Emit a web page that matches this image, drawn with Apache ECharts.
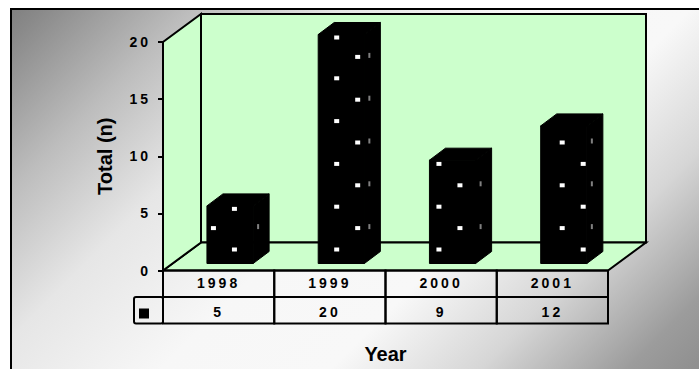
<!DOCTYPE html>
<html>
<head>
<meta charset="utf-8">
<script src="https://cdn.jsdelivr.net/npm/echarts@6/dist/echarts.min.js"></script>
<style>
html,body{margin:0;padding:0;background:#fff;}
#chart{width:699px;height:369px;}
/* the old chart draws its numbers with wide letter spacing */
#chart text[style*="14px"]{letter-spacing:3px;}
</style>
</head>
<body>
<div id="chart"></div>
<script>
const categories=['1998','1999','2000','2001']
const totals=[5,20,9,12]
const yMin=0
const yMax=20
const yStep=5

const FONT='"Liberation Sans", Arial, sans-serif'
const WALL='#CCFFCC'
const DX=38   // depth of the floor/walls
const DY=28
const ROW=26.5 // data table row height

let chart=echarts.init(document.getElementById('chart'),null,{renderer:'svg'})

function frameItem(params,api){
    let cs=params.coordSys
    let x0=cs.x, y0=cs.y, x1=cs.x+cs.width, y1=cs.y+cs.height
    let i=params.dataIndex
    let bandW=api.size([1,0])[0]
    let left=api.coord([i,0])[0]-bandW/2
    let line={stroke:'#000',lineWidth:2}
    let children=[]
    if(i===0){
        children.push({type:'rect',shape:{x:x0+DX,y:y0-DY,width:cs.width,height:cs.height},
            style:Object.assign({fill:WALL},line)})
        children.push({type:'polygon',shape:{points:[[x0,y1],[x1,y1],[x1+DX,y1-DY],[x0+DX,y1-DY]]},
            style:Object.assign({fill:WALL},line)})
        children.push({type:'polygon',shape:{points:[[x0,y1],[x0,y0],[x0+DX,y0-DY],[x0+DX,y1-DY]]},
            style:Object.assign({fill:WALL},line)})
        // legend key cell of the data table
        children.push({type:'rect',shape:{x:x0-29,y:y1+ROW,width:29,height:ROW,r:2},
            style:Object.assign({fill:'none'},line)})
        children.push({type:'rect',shape:{x:x0-24,y:y1+ROW+11.5,width:10,height:10},
            style:{fill:'#000'}})
    }
    children.push({type:'rect',shape:{x:left,y:y1,width:bandW,height:ROW},style:Object.assign({fill:'none'},line)})
    children.push({type:'rect',shape:{x:left,y:y1+ROW,width:bandW,height:ROW},style:Object.assign({fill:'none'},line)})
    return {type:'group',children}
}

function barItem(params,api){
    let i=api.value(0)
    let v=api.value(1)
    let base=api.coord([i,0])
    let top=api.coord([i,v])
    let bandW=api.size([1,0])[0]
    let bw=bandW*0.415
    let cx=base[0]+DX*0.3
    let L=cx-bw/2, R=cx+bw/2
    let B=base[1]-DY*0.25, T=top[1]-DY*0.25-0.5
    let bdx=16, bdy=12
    let solid={fill:'#000',stroke:'#000',lineWidth:1}
    let children=[
        {type:'polygon',shape:{points:[[L,T],[L+bdx,T-bdy],[R+bdx,T-bdy],[R,T]]},style:solid},
        {type:'polygon',shape:{points:[[R,T],[R+bdx,T-bdy],[R+bdx,B-bdy],[R,B]]},style:solid},
        {type:'rect',shape:{x:L,y:T,width:bw,height:B-T},style:solid}
    ]
    // dotted fill pattern of the bars
    let off0=((27-9*i)%42+42)%42
    for(let k=0;;k++){
        let y=B-14-k*21.4
        if(y-2<T-3) break
        let off=k%2 ? (off0>=21 ? off0-21 : off0+21) : off0
        for(let x=L+off;x+3<=R;x+=42){
            if(x-2>=L) children.push({type:'rect',shape:{x:x-2,y:Math.max(y-2,T+1),width:5,height:4},style:{fill:'#fff'}})
        }
        if(k%2) children.push({type:'rect',shape:{x:R+4,y:y-4,width:2,height:5},style:{fill:'#808080'}})
    }
    return {type:'group',children}
}

let seriesData=categories.map((c,i)=>[i,totals[i]])

let option={
    animation:false,
    graphic:[
        {type:'rect',z:-20,shape:{x:0,y:0,width:699,height:369},style:{fill:'#fff'}},
        {type:'rect',z:-10,shape:{x:11,y:9,width:700,height:370},
            style:{stroke:'#000',lineWidth:2,
                fill:{type:'linear',x:0,y:0,x2:530,y2:530,global:true,colorStops:[
                    {offset:0,color:'#7a7a7a'},
                    {offset:0.05,color:'#8a8a8a'},
                    {offset:0.19,color:'#bdbdbd'},
                    {offset:0.33,color:'#e6e6e6'},
                    {offset:0.5,color:'#f7f7f7'},
                    {offset:0.66,color:'#f8f8f8'},
                    {offset:0.8,color:'#d6d6d6'},
                    {offset:0.94,color:'#9c9c9c'},
                    {offset:1,color:'#909090'}
                ]}}}
    ],
    grid:{left:163,right:91,top:42,bottom:98},
    xAxis:[
        {type:'category',data:categories,
            axisLine:{show:false},axisTick:{show:false},
            axisLabel:{margin:5,fontSize:14,fontWeight:'bold',color:'#000',fontFamily:FONT},
            name:'Year',nameLocation:'middle',nameGap:73.5,
            nameTextStyle:{fontSize:20,fontWeight:'bold',color:'#000',fontFamily:FONT}},
        {type:'category',data:categories,position:'bottom',offset:ROW,
            axisLine:{show:false},axisTick:{show:false},
            axisLabel:{margin:8,fontSize:14,fontWeight:'bold',color:'#000',fontFamily:FONT,
                formatter:(v,idx)=>String(totals[idx])}}
    ],
    yAxis:{type:'value',min:yMin,max:yMax,interval:yStep,
        axisLine:{show:true,lineStyle:{color:'#000',width:2}},
        axisTick:{show:true,length:5,lineStyle:{color:'#000',width:2}},
        splitLine:{show:false},
        axisLabel:{margin:12,fontSize:14,fontWeight:'bold',color:'#000',fontFamily:FONT},
        name:'Total (n)',nameLocation:'middle',nameRotate:90,nameGap:48,
        nameTextStyle:{fontSize:20,fontWeight:'bold',color:'#000',fontFamily:FONT}},
    series:[
        {type:'custom',name:'frame',z:1,clip:false,renderItem:frameItem,data:seriesData,encode:{x:0,y:1},silent:true},
        {type:'custom',name:'Total',z:3,clip:false,renderItem:barItem,data:seriesData,encode:{x:0,y:1}}
    ]
}
chart.setOption(option)
</script>
</body>
</html>
